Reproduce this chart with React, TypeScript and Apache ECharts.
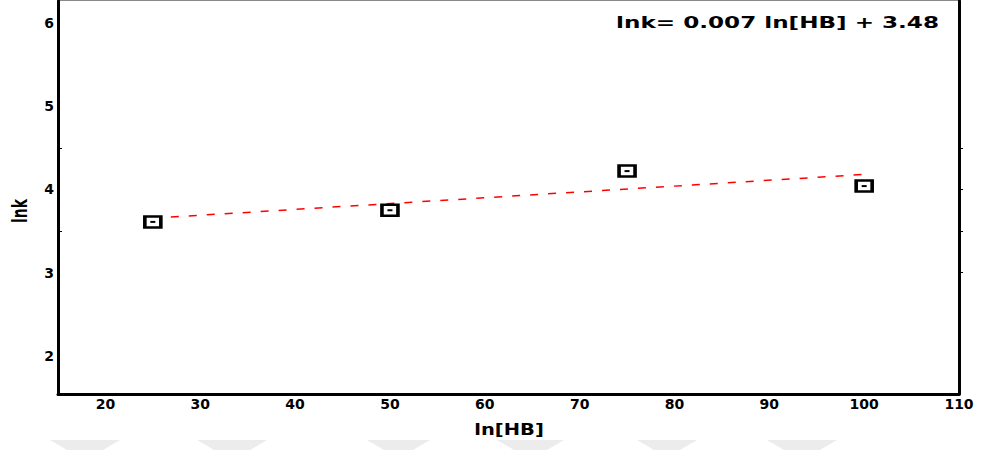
import React, { useEffect, useRef } from "react";
import * as echarts from "echarts";

const xValues = [25, 50, 75, 100];
const lnkValues = [3.61, 3.75, 4.22, 4.04];
const fitLine: [number, number][] = [
  [25, 3.655],
  [100, 4.18],
];
const xTickLabels = [20, 30, 40, 50, 60, 70, 80, 90, 100, 110];
const yTickLabels = [2, 3, 4, 5, 6];
const yLeftMinorTicks = [3.5, 4.5];
const yRightTicks = [3, 3.5, 4, 4.5];
const equationText = "lnk= 0.007 ln[HB] + 3.48";
const xTitle = "ln[HB]";
const yTitle = "lnk";

const FONT = "DejaVu Sans";

export default function App() {
  const ref = useRef<HTMLDivElement>(null);
  useEffect(() => {
    if (!ref.current) return;
    const chart = echarts.init(ref.current, null, { renderer: "svg" });
    const points = xValues.map((x, i) => [x, lnkValues[i]]);
    const yMin = 1.544;
    const yMax = 6.262;
    const wm = [
      [50, 120],
      [197, 267],
      [367, 430],
      [497, 564],
      [637, 697],
      [767, 837],
    ];
    chart.setOption({
      animation: false,
      backgroundColor: "#ffffff",
      grid: { left: 58, right: 25, top: 1, bottom: 56, containLabel: false },
      xAxis: {
        type: "value",
        min: 15,
        max: 110,
        splitLine: { show: false },
        axisLine: { show: true, onZero: false, lineStyle: { color: "#000", width: 3 } },
        axisTick: { show: false },
        axisLabel: {
          customValues: xTickLabels,
          margin: 3,
          color: "#000",
          fontSize: 14,
          fontWeight: "bold",
          fontFamily: FONT,
        },
      },
      yAxis: [
        {
          type: "value",
          min: yMin,
          max: yMax,
          splitLine: { show: false },
          axisLine: { show: true, onZero: false, lineStyle: { color: "#000", width: 3 } },
          axisTick: {
            show: true,
            inside: true,
            length: 4,
            customValues: yLeftMinorTicks,
            lineStyle: { color: "#000", width: 1 },
          },
          axisLabel: {
            customValues: yTickLabels,
            margin: 4,
            color: "#000",
            fontSize: 14,
            fontWeight: "bold",
            fontFamily: FONT,
          },
        },
        {
          type: "value",
          position: "right",
          min: yMin,
          max: yMax,
          splitLine: { show: false },
          axisLine: { show: true, onZero: false, lineStyle: { color: "#000", width: 3 } },
          axisTick: {
            show: true,
            inside: false,
            length: 4,
            customValues: yRightTicks,
            lineStyle: { color: "#000", width: 1 },
          },
          axisLabel: { show: false },
        },
      ],
      series: [
        {
          type: "line",
          data: fitLine,
          symbol: "none",
          lineStyle: { color: "#ff0000", width: 1.5, type: [8, 10] },
          z: 2,
        },
        {
          type: "scatter",
          data: points,
          symbol: "rect",
          symbolSize: [16, 11],
          itemStyle: { color: "#ffffff", borderColor: "#000", borderWidth: 3, opacity: 1 },
          z: 3,
        },
        {
          type: "scatter",
          data: points,
          symbol: "rect",
          symbolSize: [5, 2],
          itemStyle: { color: "#000", opacity: 1 },
          z: 4,
        },
      ],
      graphic: [
        ...wm.map(([a, b]) => ({
          type: "polygon",
          z: -10,
          shape: {
            points: [
              [a, 440],
              [b, 440],
              [b - 17, 450],
              [a + 17, 450],
            ],
          },
          style: { fill: "#ececec" },
        })),
        {
          type: "line",
          shape: { x1: 58, y1: 0.5, x2: 959, y2: 0.5 },
          style: { stroke: "#8a8a8a", lineWidth: 1 },
        },
        {
          type: "text",
          x: 939,
          y: 22,
          scaleX: 1.4,
          style: {
            text: equationText,
            fontSize: 16.5,
            fontWeight: "bold",
            fontFamily: FONT,
            fill: "#000",
            align: "right",
            verticalAlign: "middle",
          },
        },
        {
          type: "text",
          x: 509,
          y: 429,
          scaleX: 1.22,
          style: {
            text: xTitle,
            fontSize: 16,
            fontWeight: "bold",
            fontFamily: FONT,
            fill: "#000",
            align: "center",
            verticalAlign: "middle",
          },
        },
        {
          type: "text",
          x: 19,
          y: 211,
          rotation: Math.PI / 2,
          scaleY: 1.5,
          style: {
            text: yTitle,
            fontSize: 14,
            fontWeight: "bold",
            fontFamily: FONT,
            fill: "#000",
            align: "center",
            verticalAlign: "middle",
          },
        },
      ],
    });
    return () => chart.dispose();
  }, []);
  return (
    <div
      ref={ref}
      style={{ position: "fixed", left: 0, top: 0, width: 984, height: 450 }}
    />
  );
}
